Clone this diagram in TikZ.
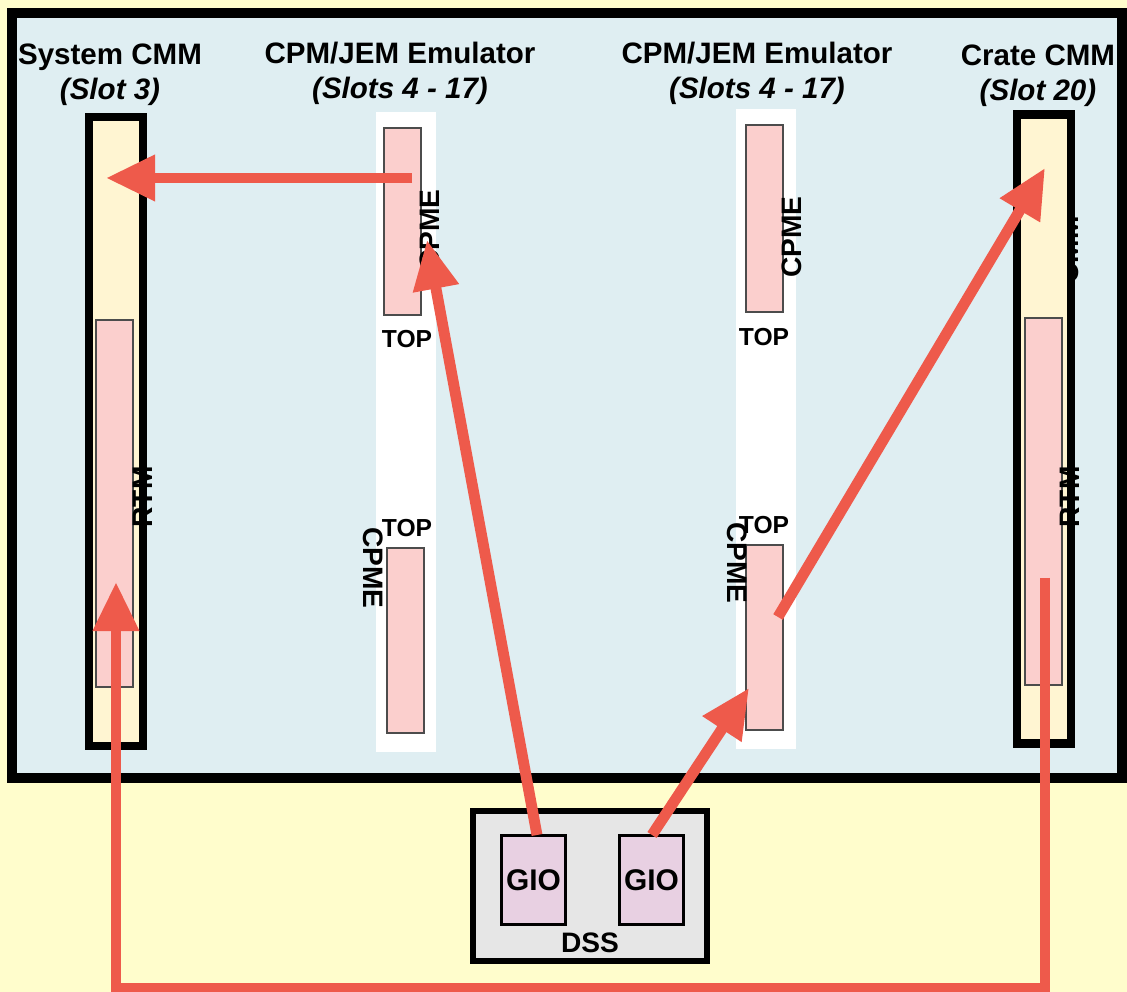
\documentclass[tikz,border=0pt]{standalone}
\usepackage{fontspec}
\setmainfont{Liberation Sans}
\usetikzlibrary{arrows.meta,positioning}
\definecolor{bgyellow}{HTML}{FFFDCC}
\definecolor{crateblue}{HTML}{DFEEF2}
\definecolor{slotcream}{HTML}{FFF5D2}
\definecolor{cardpink}{HTML}{FBCFCD}
\definecolor{dssgray}{HTML}{E6E6E6}
\definecolor{giopurple}{HTML}{E8D0E2}
\definecolor{linkred}{HTML}{EE5A4B}
\begin{document}
\begin{tikzpicture}[x=0.01cm, y=-0.01cm,
  card/.style={draw=black!70, line width=0.5pt, fill=cardpink, inner sep=0pt, minimum width=0.37cm},
  slotbox/.style={draw=black, line width=2.4pt, fill=slotcream, inner sep=0pt, minimum width=0.54cm, minimum height=6.29cm},
  strip/.style={fill=white, inner sep=0pt, minimum width=0.6cm, minimum height=6.4cm},
  gio/.style={draw=black, line width=1pt, fill=giopurple, inner sep=0pt, minimum width=0.64cm, minimum height=0.89cm, font=\fontsize{8.5}{10}\selectfont\bfseries},
  link/.style={linkred, line width=3.1pt, -{Triangle[length=14pt,width=12.5pt]}},
  title/.style={align=center, font=\fontsize{8.4}{10}\selectfont\bfseries},
  lbl/.style={inner sep=0pt, font=\fontsize{7}{8}\selectfont\bfseries},
  side/.style={inner sep=0pt, font=\fontsize{8}{9}\selectfont\bfseries}]
  % background and crate
  \fill[bgyellow] (0,0) rectangle (1127,992);
  \useasboundingbox (0,0) rectangle (1127,992);
  \draw[line width=2.9pt, fill=crateblue] (12,13) rectangle (1122,778);

  % titles
  \node[title] (systitle) at (110,75) {System CMM\\\textit{(Slot 3)}};
  \node[title] (emutitleA) at (400,73) {CPM/JEM Emulator\\\textit{(Slots 4 - 17)}};
  \node[title] (emutitleB) at (757,73) {CPM/JEM Emulator\\\textit{(Slots 4 - 17)}};
  \node[title] (cratetitle) at (1038,76) {Crate CMM\\\textit{(Slot 20)}};

  % CMM slots
  \node[side, rotate=90] (cmmlbl) at (1069,250) {CMM};
  \node[slotbox] (syscmm) at (116,431.5) {};
  \node[slotbox] (cratecmm) at (1044,429) {};
  \node[card, minimum height=3.67cm] (sysrtm) at (114.5,503.5) {};
  \node[card, minimum height=3.67cm] (cratertm) at (1043.5,501.5) {};
  \node[side, rotate=90] (sysrtmlbl) at (143,497) {RTM};
  \node[side, rotate=90] (cratertmlbl) at (1070,497) {RTM};

  % emulator strips
  \node[strip] (emuA) at (406,432) {};
  \node[strip] (emuB) at (766,429) {};
  \node[card, minimum height=1.87cm] (cardAtop) at (402.5,221.5) {};
  \node[card, minimum height=1.85cm] (cardAbot) at (405.5,640.5) {};
  \node[card, minimum height=1.87cm] (cardBtop) at (764.5,218.5) {};
  \node[card, minimum height=1.85cm] (cardBbot) at (764.5,637.5) {};
  \node[lbl] (topA1) at (407,339) {TOP};
  \node[lbl] (topA2) at (407,528) {TOP};
  \node[lbl] (topB1) at (764,337) {TOP};
  \node[lbl] (topB2) at (764,525) {TOP};
  \node[side, rotate=90] (cpmeA1) at (430,230) {CPME};
  \node[side, rotate=90] (cpmeB1) at (792,237) {CPME};
  \node[side, rotate=-90] (cpmeA2) at (373,568) {CPME};
  \node[side, rotate=-90] (cpmeB2) at (737,563) {CPME};

  % DSS
  \node[draw=black, line width=1.8pt, fill=dssgray, inner sep=0pt, minimum width=2.34cm, minimum height=1.5cm] (dss) at (590,886) {};
  \node[gio] (gioA) at (533.5,880) {GIO};
  \node[gio] (gioB) at (651.5,880) {GIO};
  \node[font=\fontsize{8}{9}\selectfont\bfseries, inner sep=0pt] (dsslbl) at (590,943) {DSS};

  % link ends
  \coordinate (a1) at (412,178);
  \coordinate (a1tip) at (106,178);
  \coordinate (a2) at (537,835);
  \coordinate (a2tip) at (427,240);
  \coordinate (a3) at (652,835);
  \coordinate (a3tip) at (749,688);
  \coordinate (a4) at (778,617);
  \coordinate (a4tip) at (1045,168);
  \coordinate (a5) at (1045,578);
  \coordinate (a5tip) at (116,582);

  % links
  \draw[link] (a1) -- (a1tip);
  \draw[link] (a2) -- (a2tip);
  \draw[link] (a3) -- (a3tip);
  \draw[link] (a4) -- (a4tip);
  \draw[link] (a5) -- (1045,988) -- (116,988) -- (a5tip);
\end{tikzpicture}
\end{document}
